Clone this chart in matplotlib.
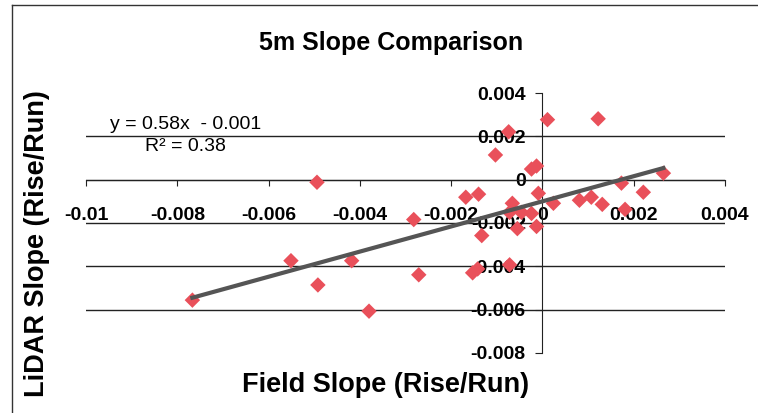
"""
5m Slope Comparison: pendiente LiDAR frente a pendiente de campo,
con la recta de tendencia lineal.
"""

import matplotlib.pyplot as plt
from matplotlib.lines import Line2D

plt.rcParams['font.family'] = ['Liberation Sans', 'DejaVu Sans']

# --- Datos ---
field_slope = [-0.00767, -0.00551, -0.00418, -0.00492, -0.00380, -0.00494,
               -0.00282, -0.00271, -0.00168, -0.00140, -0.00133, -0.00153,
               -0.00142, -0.00072, -0.00103, -0.00074, 0.00011, 0.00122,
               -0.00024, -0.00013, -0.00066, -0.00072, -0.00046, -0.00024,
               -0.00055, -0.00013, -0.00009, 0.00024, 0.00081, 0.00107,
               0.00131, 0.00181, 0.00173, 0.00221, 0.00265]
lidar_slope = [-0.00556, -0.00374, -0.00374, -0.00486, -0.00607, -0.00012,
               -0.00184, -0.00439, -0.00081, -0.00067, -0.00258, -0.00430,
               -0.00412, -0.00393, 0.00114, 0.00221, 0.00277, 0.00281,
               0.00049, 0.00063, -0.00109, -0.00151, -0.00151, -0.00156,
               -0.00226, -0.00216, -0.00063, -0.00109, -0.00095, -0.00081,
               -0.00114, -0.00137, -0.00016, -0.00058, 0.00030]

trend_slope = 0.58
trend_intercept = -0.001

x_ticks = [-0.01, -0.008, -0.006, -0.004, -0.002, 0, 0.002, 0.004]
x_tick_labels = ['-0.01', '-0.008', '-0.006', '-0.004', '-0.002', '0', '0.002', '0.004']
y_ticks = [-0.008, -0.006, -0.004, -0.002, 0, 0.002, 0.004]
y_tick_labels = ['-0.008', '-0.006', '-0.004', '-0.002', '0', '0.002', '0.004']

# --- Figura ---
fig = plt.figure(figsize=(7.58, 4.13), dpi=100)
ax = fig.add_axes([0.1135, 0.1453, 0.843, 0.6295])
ax.set_xlim(x_ticks[0], x_ticks[-1])
ax.set_ylim(y_ticks[0], y_ticks[-1])

# lineas de division (sin las de los extremos)
for yv in y_ticks[1:-1]:
    ax.axhline(yv, color='#222222', lw=1.0, zorder=1)

# ejes cruzando en el origen
ax.spines['top'].set_visible(False)
ax.spines['right'].set_visible(False)
ax.spines['left'].set_position(('data', 0))
ax.spines['bottom'].set_position(('data', 0))
ax.spines['left'].set_color('#222222')
ax.spines['bottom'].set_color('#222222')

ax.set_xticks(x_ticks)
ax.set_xticklabels(x_tick_labels, fontsize=14, fontweight='bold')
ax.set_yticks(y_ticks)
ax.set_yticklabels(y_tick_labels, fontsize=14, fontweight='bold')
ax.tick_params(axis='x', direction='out', length=4, pad=16, color='#222222')
ax.tick_params(axis='y', direction='out', length=5, pad=7, color='#222222')

# puntos
ax.scatter(field_slope, lidar_slope, marker='D', s=62, color='#E9505A',
           edgecolors='none', zorder=3)

# recta de tendencia
x0, x1 = min(field_slope), max(field_slope)
ax.plot([x0, x1], [trend_slope * x0 + trend_intercept, trend_slope * x1 + trend_intercept],
        color='#555555', lw=3.0, zorder=4)

ax.text(0.037, 0.877, 'y = 0.58x  - 0.001', transform=ax.transAxes,
        fontsize=14, va='center', ha='left')
ax.text(0.092, 0.796, 'R² = 0.38', transform=ax.transAxes,
        fontsize=14, va='center', ha='left')

fig.text(0.516, 0.895, '5m Slope Comparison', fontsize=18, fontweight='bold',
         ha='center', va='center')
fig.text(0.508, 0.068, 'Field Slope (Rise/Run)', fontsize=19.5, fontweight='bold',
         ha='center', va='center')
fig.text(0.049, 0.41, 'LiDAR Slope (Rise/Run)', fontsize=19.5, fontweight='bold',
         ha='center', va='center', rotation=90)

# marco del grafico
fig.add_artist(Line2D([0.0158, 0.0158], [0.0, 0.988], color='#333333', lw=1.0))
fig.add_artist(Line2D([0.0158, 1.0], [0.988, 0.988], color='#333333', lw=1.0))

fig.savefig('out.png', dpi=100)
